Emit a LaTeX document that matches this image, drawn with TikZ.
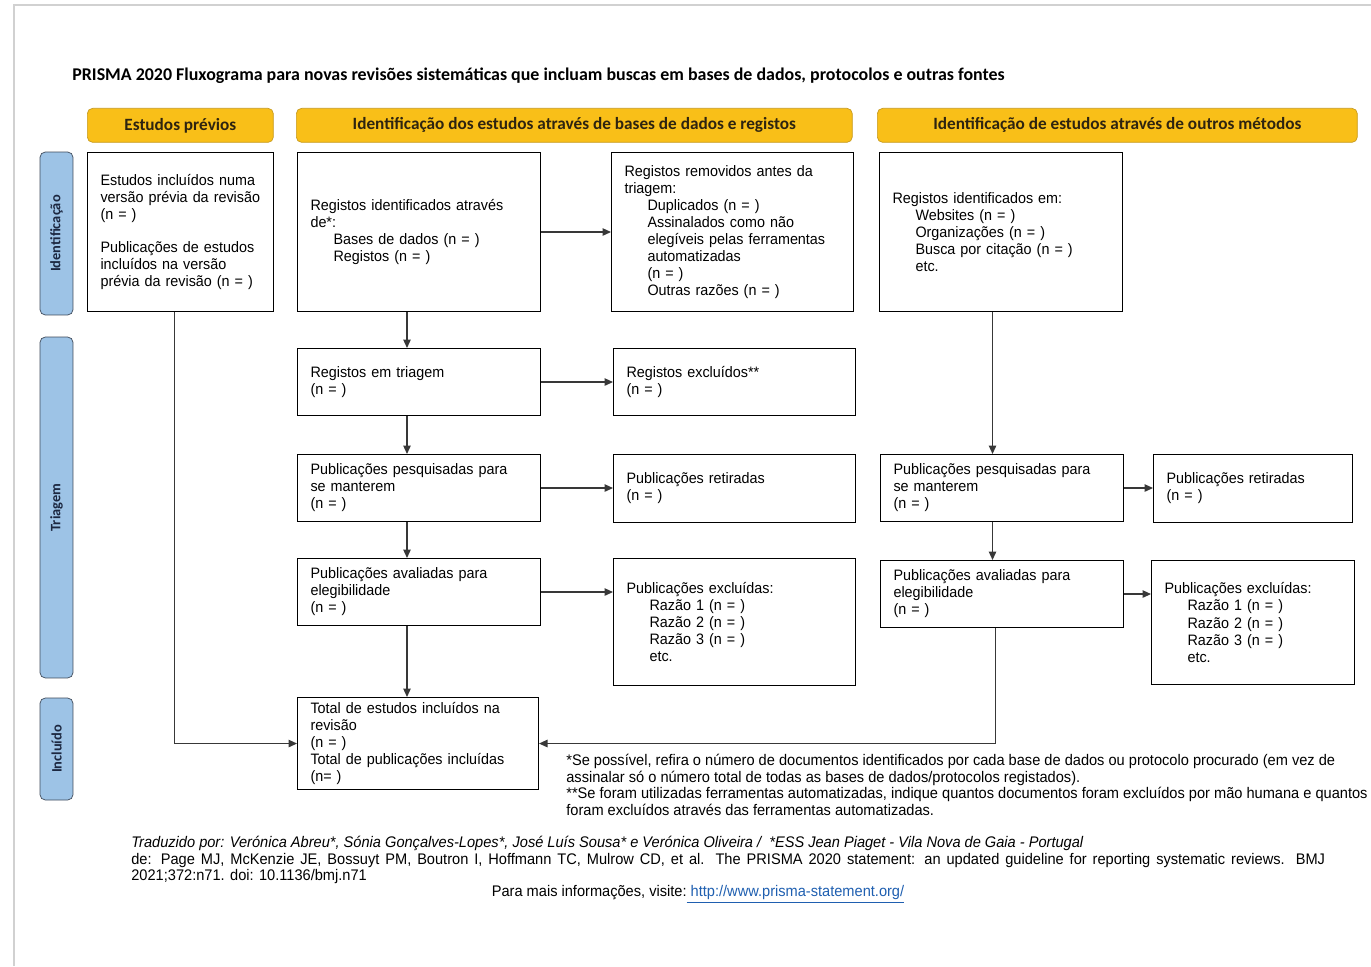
\documentclass[tikz,border=0pt]{standalone}
\usepackage{fontspec}
\setmainfont{Liberation Sans}[FakeStretch=0.95]
\newfontfamily\calibri{Carlito}
\usepackage{xcolor}
\usetikzlibrary{arrows.meta}
\usetikzlibrary{calc}

\definecolor{hdrgold}{HTML}{F9BF18}
\definecolor{hdredge}{HTML}{C79A1E}
\definecolor{hdrink}{HTML}{2E2410}
\definecolor{barblue}{HTML}{9DC3E6}
\definecolor{baredge}{HTML}{3F4B5B}
\definecolor{barink}{HTML}{1C2740}
\definecolor{linegray}{HTML}{383838}
\definecolor{linkblue}{HTML}{1F5FB0}
\newcommand{\ind}{\hspace*{0.46cm}}

\tikzset{
	box/.style={draw=black, line width=0.6pt, anchor=north west, align=left,
		text width=#1, inner xsep=0.26cm, inner ysep=0pt,
		font=\fontsize{8.6}{9.7}\selectfont},
	hdr/.style={draw=hdredge, fill=hdrgold, rounded corners=3pt, anchor=north west,
		minimum height=0.68cm, inner sep=0pt, text=hdrink,
		font=\calibri\bfseries\fontsize{9.8}{11}\selectfont},
	bar/.style={draw=baredge, fill=barblue, rounded corners=3pt, rotate=90,
		minimum height=0.66cm, inner sep=0pt, text=barink,
		font=\calibri\bfseries\fontsize{8.2}{9}\selectfont},
	flow/.style={-{Triangle[length=0.17cm,width=0.15cm]}, draw=linegray, line width=0.7pt},
	smalltext/.style={inner sep=0pt, font=\fontsize{8.75}{9.4}\selectfont}
}

\begin{document}
\begin{tikzpicture}[x=0.02cm, y=-0.02cm]
\useasboundingbox (0,0) rectangle (1371,966);
\draw[black!18, line width=0.8pt] (14,966) -- (14,5) -- (1371,5);

\node[anchor=west, inner sep=0pt, font=\calibri\bfseries\fontsize{10.2}{12}\selectfont] (title) at (72,76)
	{PRISMA 2020 Fluxograma para novas revisões sistemáticas que incluam buscas em bases de dados, protocolos e outras fontes};

% headers
\node[hdr, minimum width=3.72cm] (hprev) at (87,108) {Estudos prévios};
\node[hdr, minimum width=11.12cm] (hdb) at (296,108) {Identificação dos estudos através de bases de dados e registos};
\node[hdr, minimum width=9.6cm] (hother) at (877,108) {Identificação de estudos através de outros métodos};

% phases
\node[bar, minimum width=3.26cm] (phid) at (56.5,233.5) {Identificação};
\node[bar, minimum width=6.82cm] (phtri) at (56.5,507.5) {Triagem};
\node[bar, minimum width=2.04cm] (phinc) at (56.5,749) {Incluído};

% boxes
\node[box=3.2cm, minimum height=3.18cm] (prev) at (87,152)
	{Estudos incluídos numa\\ versão prévia da revisão\\ (n = )\\[0.32cm]
	 Publicações de estudos\\ incluídos na versão\\ prévia da revisão (n = )};
\node[box=4.34cm, minimum height=3.18cm] (ident) at (297,152)
	{Registos identificados através\\ de*:\\ \ind Bases de dados (n = )\\ \ind Registos (n = )};
\node[box=4.32cm, minimum height=3.18cm] (remov) at (611,152)
	{Registos removidos antes da\\ triagem:\\ \ind Duplicados (n = )\\ \ind Assinalados como não\\
	 \ind elegíveis pelas ferramentas\\ \ind automatizadas\\ \ind (n = )\\ \ind Outras razões (n = )};
\node[box=4.34cm, minimum height=3.18cm] (other) at (879,152)
	{Registos identificados em:\\ \ind Websites (n = )\\ \ind Organizações (n = )\\
	 \ind Busca por citação (n = )\\ \ind etc.};

\node[box=4.34cm, minimum height=1.34cm] (screen) at (297,348) {Registos em triagem\\ (n = )};
\node[box=4.32cm, minimum height=1.34cm] (excl) at (613,348) {Registos excluídos**\\ (n = )};

\node[box=4.34cm, minimum height=1.34cm] (sought) at (297,454) {Publicações pesquisadas para\\ se manterem\\ (n = )};
\node[box=4.32cm, minimum height=1.36cm] (notret) at (613,454) {Publicações retiradas\\ (n = )};

\node[box=4.34cm, minimum height=1.34cm] (elig) at (297,558) {Publicações avaliadas para\\ elegibilidade\\ (n = )};
\node[box=4.32cm, minimum height=2.54cm] (exclpub) at (613,558)
	{Publicações excluídas:\\ \ind Razão 1 (n = )\\ \ind Razão 2 (n = )\\ \ind Razão 3 (n = )\\ \ind etc.};

\node[box=4.34cm, minimum height=1.34cm] (soughtb) at (880,454) {Publicações pesquisadas para\\ se manterem\\ (n = )};
\node[box=3.46cm, minimum height=1.36cm] (notretb) at (1153,454) {Publicações retiradas\\ (n = )};

\node[box=4.34cm, minimum height=1.34cm] (eligb) at (880,560) {Publicações avaliadas para\\ elegibilidade\\ (n = )};
\node[box=3.54cm, minimum height=2.48cm] (exclpubb) at (1151,560)
	{Publicações excluídas:\\ \ind Razão 1 (n = )\\ \ind Razão 2 (n = )\\ \ind Razão 3 (n = )\\ \ind etc.};

\node[box=4.30cm, minimum height=1.84cm] (incl) at (297,697)
	{Total de estudos incluídos na\\ revisão\\ (n = )\\ Total de publicações incluídas\\ (n= )};

% connectors
\path (ident.east) edge[flow] (ident.east -| remov.west)
	([xshift=-0.24cm]ident.south) edge[flow] ([xshift=-0.24cm]ident.south |- screen.north);
\path (screen.east) edge[flow] (screen.east -| excl.west)
	([xshift=-0.24cm]screen.south) edge[flow] ([xshift=-0.24cm]screen.south |- sought.north);
\path (sought.east) edge[flow] (sought.east -| notret.west)
	([xshift=-0.24cm]sought.south) edge[flow] ([xshift=-0.24cm]sought.south |- elig.north);
\path (elig.east) edge[flow] (elig.east -| exclpub.west)
	([xshift=-0.24cm]elig.south) edge[flow] ([xshift=-0.24cm]elig.south |- incl.north);
\path ([xshift=-0.17cm]other.south) edge[flow] ([xshift=-0.17cm]other.south |- soughtb.north);
\path (soughtb.east) edge[flow] (soughtb.east -| notretb.west)
	([xshift=-0.19cm]soughtb.south) edge[flow] ([xshift=-0.19cm]soughtb.south |- eligb.north);
\path (eligb.east) edge[flow] (eligb.east -| exclpubb.west);
\draw[flow] ([xshift=-0.12cm]prev.south) |- (incl.west);
\draw[flow] ([xshift=-0.13cm]eligb.south) |- (incl.east);

% notes
\node[smalltext, anchor=north west, align=left] (notes) at (566,754)
	{*Se possível, refira o número de documentos identificados por cada base de dados ou protocolo procurado (em vez de\\
	 assinalar só o número total de todas as bases de dados/protocolos registados).\\
	 **Se foram utilizadas ferramentas automatizadas, indique quantos documentos foram excluídos por mão humana e quantos\\
	 foram excluídos através das ferramentas automatizadas.};

\node[smalltext, anchor=north west, align=justify, text width=23.88cm] (credits) at (131,836)
	{\textit{Traduzido por: Verónica Abreu*, Sónia Gonçalves-Lopes*, José Luís Sousa* e Verónica Oliveira /\ \ *ESS Jean Piaget - Vila Nova de Gaia - Portugal}\\
	 de: Page MJ, McKenzie JE, Bossuyt PM, Boutron I, Hoffmann TC, Mulrow CD, et al. The PRISMA 2020 statement: an updated guideline for reporting systematic reviews. BMJ\linebreak
	 2021;372:n71. doi: 10.1136/bmj.n71};
\node[smalltext] (visit) at (698,894)
	{Para mais informações, visite:\textcolor{linkblue}{\underline{\ http://www.prisma-statement.org/}}};
\end{tikzpicture}
\end{document}
